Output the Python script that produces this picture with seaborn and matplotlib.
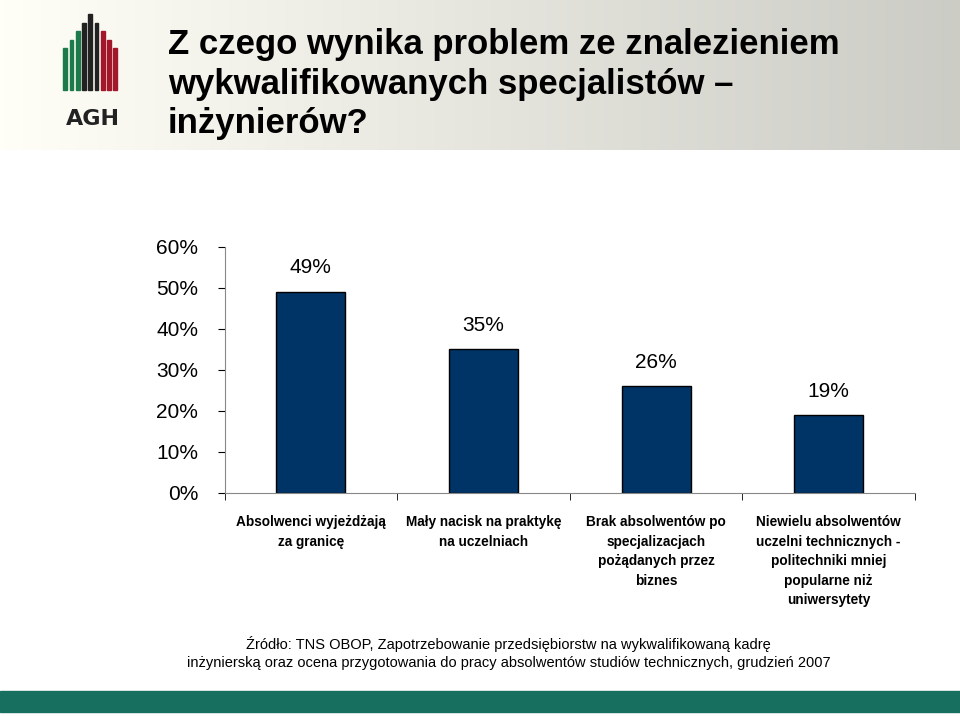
import numpy as np
import matplotlib
matplotlib.use("Agg")
import matplotlib.pyplot as plt
import seaborn as sns
from matplotlib.patches import Rectangle

categories = [
    "Absolwenci wyjeżdżają\nza granicę",
    "Mały nacisk na praktykę\nna uczelniach",
    "Brak absolwentów po\nspecjalizacjach\npożądanych przez\nbiznes",
    "Niewielu absolwentów\nuczelni technicznych -\npolitechniki mniej\npopularne niż\nuniwersytety",
]
values = [49, 35, 26, 19]
yticks = [0, 10, 20, 30, 40, 50, 60]

plt.rcParams["font.family"] = ["Liberation Sans", "DejaVu Sans"]
fig = plt.figure(figsize=(9.6, 7.16), dpi=100)

# header banner gradient
bg = fig.add_axes([0, 0.79, 1, 0.21], zorder=0)
grad = np.linspace(1.0, 0.80, 256)[None, :]
bg.imshow(np.dstack([grad, grad, grad * 0.97]), aspect="auto", extent=[0, 1, 0, 1])
bg.set_xlim(0, 1); bg.set_ylim(0, 1); bg.axis("off")

# simple logo
for i, c in enumerate(["#1e7a4a"] * 3 + ["#222222"] * 3 + ["#a3172a"] * 3):
    h = 0.55 + 0.45 * (1 - abs(i - 4) / 4)
    fig.add_artist(Rectangle((0.066 + i * 0.0065, 0.875), 0.004, h * 0.105,
                             color=c, transform=fig.transFigure))
fig.text(0.097, 0.825, "AGH", fontsize=16, fontweight="bold", ha="center",
         color="#222222", family="DejaVu Sans")

fig.text(0.175, 0.882, "Z czego wynika problem ze znalezieniem\nwykwalifikowanych specjalistów –\ninżynierów?",
         fontsize=25, fontweight="bold", va="center", ha="left", linespacing=1.25)

ax = fig.add_axes([0.234, 0.3115, 0.719, 0.344])
x = np.arange(len(categories))
sns.barplot(x=x, y=values, color="#003366", width=0.4, saturation=1,
            edgecolor="black", linewidth=1, ax=ax)
for xi, v in zip(x, values):
    ax.text(xi, v + 3.5, f"{v}%", ha="center", va="bottom", fontsize=15)
ax.set_ylim(0, 60)
ax.set_xlim(-0.5, 3.5)
ax.set_yticks(yticks)
ax.set_yticklabels([f"{t}%" for t in yticks], fontsize=15)
ax.set_xticks(x)
ax.set_xticklabels(categories, fontsize=9.8, fontweight="bold", va="top", linespacing=1.5)
ax.tick_params(axis="x", length=0, pad=16)
ax.set_xticks([-0.5, 0.5, 1.5, 2.5, 3.5], minor=True)
ax.tick_params(axis="x", which="minor", length=5)
ax.tick_params(axis="y", length=5, pad=14)
for s in ["top", "right"]:
    ax.spines[s].set_visible(False)
ax.spines["left"].set_color("#888888")
ax.spines["bottom"].set_color("#888888")

fig.text(0.53, 0.088, "Źródło: TNS OBOP, Zapotrzebowanie przedsiębiorstw na wykwalifikowaną kadrę\n"
         "inżynierską oraz ocena przygotowania do pracy absolwentów studiów technicznych, grudzień 2007",
         ha="center", va="center", fontsize=10.5, linespacing=1.4)
fig.add_artist(Rectangle((0, 0.005), 1, 0.03, color="#17705f", transform=fig.transFigure))

fig.savefig("out.png", dpi=100)
